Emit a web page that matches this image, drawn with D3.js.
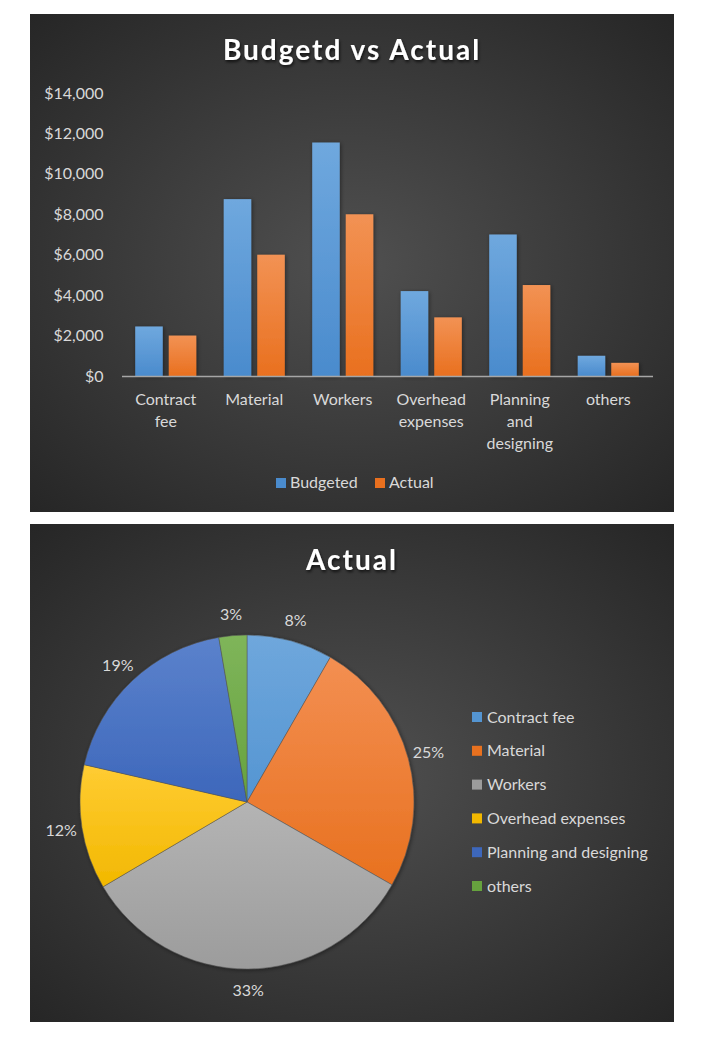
<!DOCTYPE html>
<html>
<head>
<meta charset="utf-8">
<script src="https://cdnjs.cloudflare.com/ajax/libs/d3/7.8.5/d3.min.js"></script>
<style>
  body { margin: 0; background: #fff; }
  svg { display: block; font-family: Lato, "Open Sans", sans-serif; }
</style>
</head>
<body>
<div id="chart"></div>
<script>
// Data
var categories = ["Contract fee", "Material", "Workers", "Overhead expenses", "Planning and designing", "others"];
var axisLabels = [["Contract", "fee"], ["Material"], ["Workers"], ["Overhead", "expenses"], ["Planning", "and", "designing"], ["others"]];
var budgeted = [2450, 8750, 11550, 4200, 7000, 1000];
var actual = [2000, 6000, 8000, 2900, 4500, 650];
var seriesNames = ["Budgeted", "Actual"];
var yTicks = [0, 2000, 4000, 6000, 8000, 10000, 12000, 14000];

var seriesColors = [["#6fa8de", "#4a8bcd"], ["#f29254", "#e9701f"]];
var sliceColors = [
    ["#6fa7dc", "#5495d2"],
    ["#f38f52", "#e8711f"],
    ["#b4b4b4", "#9c9c9c"],
    ["#ffcc33", "#f2b800"],
    ["#5b82cc", "#3d67bb"],
    ["#7fb55a", "#66a23e"]
];
var textColor = "#d9d9d9";

var svg = d3.select("#chart").append("svg")
    .attr("width", 720)
    .attr("height", 1040);

var defs = svg.append("defs");

var bg = defs.append("radialGradient")
    .attr("id", "bg")
    .attr("cx", "50%").attr("cy", "50%").attr("r", "72%");
bg.append("stop").attr("offset", "0%").attr("stop-color", "#505050");
bg.append("stop").attr("offset", "100%").attr("stop-color", "#252525");

var shadow = defs.append("filter").attr("id", "shadow")
    .attr("x", "-10%").attr("y", "-10%").attr("width", "130%").attr("height", "140%");
shadow.append("feDropShadow")
    .attr("dx", 1).attr("dy", 2).attr("stdDeviation", 1.5)
    .attr("flood-color", "#000").attr("flood-opacity", 0.7);

var softShadow = defs.append("filter").attr("id", "softShadow")
    .attr("x", "-10%").attr("y", "-10%").attr("width", "130%").attr("height", "130%");
softShadow.append("feDropShadow")
    .attr("dx", 1).attr("dy", 1).attr("stdDeviation", 2)
    .attr("flood-color", "#000").attr("flood-opacity", 0.45);

function vGrad(id, c) {
    var g = defs.append("linearGradient").attr("id", id)
        .attr("x1", 0).attr("y1", 0).attr("x2", 0).attr("y2", 1);
    g.append("stop").attr("offset", "0%").attr("stop-color", c[0]);
    g.append("stop").attr("offset", "100%").attr("stop-color", c[1]);
}
seriesColors.forEach(function(c, i) { vGrad("ser" + i, c); });
sliceColors.forEach(function(c, i) { vGrad("slice" + i, c); });

// ---------- Bar chart ----------
var barG = svg.append("g");
barG.append("rect")
    .attr("x", 30).attr("y", 14)
    .attr("width", 644).attr("height", 498)
    .attr("fill", "url(#bg)");

barG.append("text")
    .attr("x", 352).attr("y", 60)
    .attr("text-anchor", "middle")
    .attr("font-size", "28px")
    .attr("font-weight", "bold")
    .attr("letter-spacing", "2px")
    .attr("fill", "#fff")
    .attr("filter", "url(#shadow)")
    .text("Budgetd vs Actual");

var margin = {left: 121.5, right: 652.5, top: 93, bottom: 376};

var x0 = d3.scaleBand()
    .domain(categories)
    .range([margin.left, margin.right])
    .paddingInner(0.31)
    .paddingOuter(0.155);

var x1 = d3.scaleBand()
    .domain(seriesNames)
    .range([0, x0.bandwidth()])
    .paddingInner(0.18);

var y = d3.scaleLinear()
    .domain([0, 14000])
    .range([margin.bottom, margin.top]);

// Y axis
var yAxis = barG.append("g")
    .attr("transform", "translate(" + margin.left + ",0)")
    .call(d3.axisLeft(y).tickValues(yTicks).tickFormat(d3.format("$,")).tickSize(0).tickPadding(18));
yAxis.select(".domain").remove();
yAxis.selectAll("text")
    .attr("fill", textColor)
    .attr("font-size", "16px")
    .attr("font-family", "Lato, sans-serif");

// Bars
var groups = barG.selectAll(".grp")
    .data(categories)
    .join("g")
    .attr("class", "grp")
    .attr("transform", function(d) { return "translate(" + x0(d) + ",0)"; });

groups.selectAll("rect")
    .data(function(d, i) { return [{s: 0, v: budgeted[i]}, {s: 1, v: actual[i]}]; })
    .join("rect")
    .attr("x", function(d) { return x1(seriesNames[d.s]); })
    .attr("y", function(d) { return y(d.v); })
    .attr("width", x1.bandwidth())
    .attr("height", function(d) { return y(0) - y(d.v); })
    .attr("fill", function(d) { return "url(#ser" + d.s + ")"; })
    .attr("filter", "url(#softShadow)");

// X axis
var xAxis = barG.append("g")
    .attr("transform", "translate(0," + margin.bottom + ")")
    .call(d3.axisBottom(x0).tickSize(0).tickSizeOuter(0).tickFormat(""));
xAxis.select(".domain")
    .attr("stroke", "#a6a6a6")
    .attr("stroke-width", 1.5);

barG.append("g").selectAll("text")
    .data(categories)
    .join("text")
    .attr("x", function(d) { return x0(d) + x0.bandwidth() / 2; })
    .attr("y", margin.bottom + 29)
    .attr("text-anchor", "middle")
    .attr("fill", textColor)
    .attr("font-size", "16px")
    .each(function(d, i) {
        var t = d3.select(this);
        axisLabels[i].forEach(function(line, j) {
            t.append("tspan")
                .attr("x", x0(d) + x0.bandwidth() / 2)
                .attr("dy", j === 0 ? 0 : 22)
                .text(line);
        });
    });

// Bar legend
var legendBar = barG.append("g").attr("transform", "translate(276,478)");
var legItems = legendBar.selectAll("g")
    .data(seriesNames)
    .join("g")
    .attr("transform", function(d, i) { return "translate(" + (i * 99) + ",0)"; });
legItems.append("rect")
    .attr("width", 10).attr("height", 10)
    .attr("fill", function(d, i) { return seriesColors[i][1]; });
legItems.append("text")
    .attr("x", 14).attr("y", 10)
    .attr("fill", textColor)
    .attr("font-size", "16px")
    .text(function(d) { return d; });

// ---------- Pie chart ----------
var pieBox = svg.append("g");
pieBox.append("rect")
    .attr("x", 30).attr("y", 524)
    .attr("width", 644).attr("height", 498)
    .attr("fill", "url(#bg)");

pieBox.append("text")
    .attr("x", 352).attr("y", 570)
    .attr("text-anchor", "middle")
    .attr("font-size", "28px")
    .attr("font-weight", "bold")
    .attr("letter-spacing", "2px")
    .attr("fill", "#fff")
    .attr("filter", "url(#shadow)")
    .text("Actual");

var cx = 247, cy = 802, radius = 167, labelRadius = 188;
var total = d3.sum(actual);

var pie = d3.pie().sort(null).value(function(d) { return d; });
var arcs = pie(actual);
var arc = d3.arc().innerRadius(0).outerRadius(radius);
var labelArc = d3.arc().innerRadius(labelRadius).outerRadius(labelRadius);

var pieG = pieBox.append("g")
    .attr("transform", "translate(" + cx + "," + cy + ")");

pieG.append("g").attr("filter", "url(#softShadow)")
    .selectAll("path")
    .data(arcs)
    .join("path")
    .attr("d", arc)
    .attr("fill", function(d, i) { return "url(#slice" + i + ")"; })
    .attr("stroke", "#555")
    .attr("stroke-width", 0.5);

pieG.selectAll(".lbl")
    .data(arcs)
    .join("text")
    .attr("class", "lbl")
    .attr("transform", function(d) { return "translate(" + labelArc.centroid(d) + ")"; })
    .attr("text-anchor", "middle")
    .attr("dy", "0.35em")
    .attr("fill", textColor)
    .attr("font-size", "16px")
    .text(function(d) { return Math.round(d.value / total * 100) + "%"; });

// Pie legend
var legendPie = pieBox.append("g").attr("transform", "translate(472,712)");
var pItems = legendPie.selectAll("g")
    .data(categories)
    .join("g")
    .attr("transform", function(d, i) { return "translate(0," + (i * 33.8) + ")"; });
pItems.append("rect")
    .attr("width", 10).attr("height", 10)
    .attr("fill", function(d, i) { return sliceColors[i][1]; });
pItems.append("text")
    .attr("x", 15).attr("y", 10.5)
    .attr("fill", textColor)
    .attr("font-size", "16px")
    .text(function(d) { return d; });
</script>
</body>
</html>
